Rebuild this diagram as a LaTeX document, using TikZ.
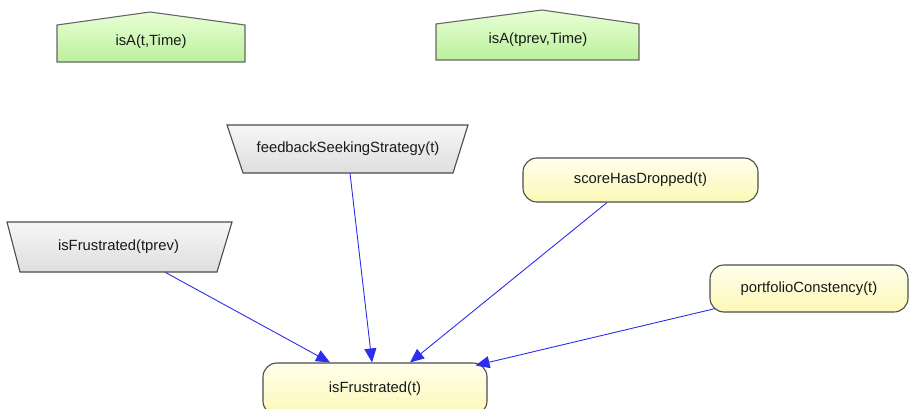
\documentclass[tikz,border=0pt]{standalone}
\usepackage{fontspec}
\setmainfont{Liberation Sans}
\usetikzlibrary{arrows.meta,calc}
\definecolor{edgeblue}{RGB}{45,45,240}
\definecolor{greentop}{RGB}{232,255,214}
\definecolor{greenbot}{RGB}{188,240,156}
\definecolor{greytop}{RGB}{246,246,246}
\definecolor{greybot}{RGB}{222,222,222}
\definecolor{yeltop}{RGB}{255,255,236}
\definecolor{yelbot}{RGB}{252,248,182}
\begin{document}
\begin{tikzpicture}[x=1pt,y=-1pt,
  lbl/.style={font=\fontsize{14.8}{17}\selectfont, text=black!90, inner sep=0pt},
  housebox/.style={draw=black!60, line width=1.1pt, top color=greentop, bottom color=greenbot},
  trapbox/.style={draw=black!70, line width=1.1pt, top color=greytop, bottom color=greybot},
  roundbox/.style={draw=black!70, line width=1.1pt, rounded corners=14pt, top color=yeltop, bottom color=yelbot, font=\fontsize{14.8}{17}\selectfont, text=black!90},
  link/.style={draw=edgeblue, line width=0.9pt, -{Triangle[length=14pt,width=12pt]}}
]
\useasboundingbox (0,0) rectangle (909,409);

% house-shaped (green) nodes
\path[housebox] (57,62) -- (57,25) -- (150,12) -- (245,25) -- (245,62) -- cycle;
\node[lbl] (isat) at (151,42) {isA(t,Time)};
\path[housebox] (436,60) -- (436,24) -- (542,10) -- (639,24) -- (639,60) -- cycle;
\node[lbl] (isatp) at (538,40) {isA(tprev,Time)};

% trapezoid (grey) nodes
\path[trapbox] (227,125) -- (468,125) -- (453,173) -- (243,173) -- cycle;
\node[lbl, minimum width=210pt, minimum height=48pt] (fss) at (348,149) {feedbackSeekingStrategy(t)};
\path[trapbox] (7,222) -- (232,222) -- (217,272) -- (20,272) -- cycle;
\node[lbl, minimum width=197pt, minimum height=50pt] (ifp) at (118.5,247) {isFrustrated(tprev)};

% rounded (yellow) nodes
\node[roundbox, minimum width=235pt, minimum height=44pt, inner sep=0pt] (shd) at (640.5,180) {scoreHasDropped(t)};
\node[roundbox, minimum width=198pt, minimum height=47pt, inner sep=0pt] (pfc) at (809,288.5) {portfolioConstency(t)};
\node[roundbox, minimum width=224pt, minimum height=52pt, inner sep=0pt] (ift) at (375,389) {isFrustrated(t)};

% connectors
\draw[link] ($(ifp.south)+(46.5,0)$) -- ($(ift.north)+(-45,0)$);
\draw[link] ($(fss.south)+(2,0)$) -- ($(ift.north)+(-3,0)$);
\draw[link] ($(shd.south)+(-33.5,0)$) -- ($(ift.north)+(35,0)$);
\draw[link] ($(pfc.west)+(6,20)$) -- ($(ift.north east)+(-12,3)$);
\end{tikzpicture}
\end{document}
